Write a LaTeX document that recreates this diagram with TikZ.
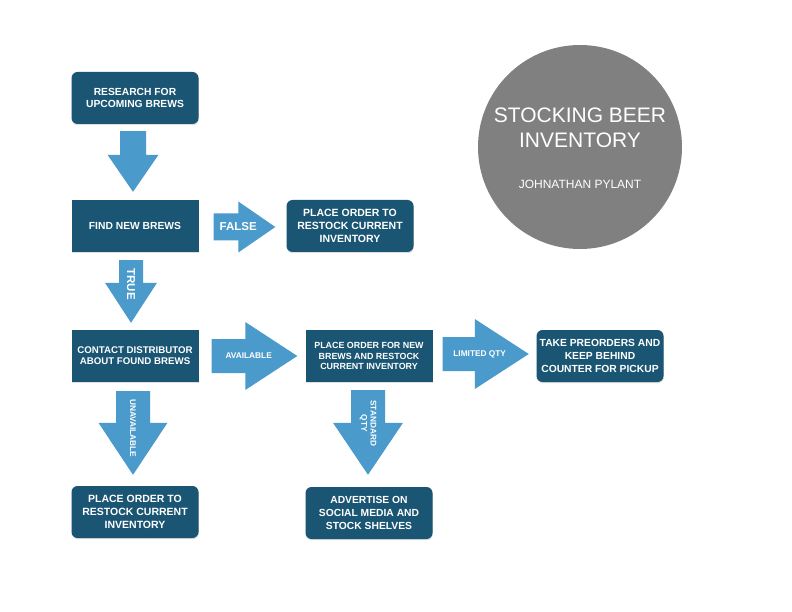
\documentclass[tikz,border=0pt]{standalone}
\usepackage{fontspec}
\setmainfont{Liberation Sans}
\usetikzlibrary{calc,shadows}

\definecolor{boxblue}{RGB}{26,85,115}
\definecolor{arrowblue}{RGB}{74,154,204}
\definecolor{titlegray}{RGB}{128,128,128}

\tikzset{
  stepbox/.style={fill=boxblue,text=white,align=center,inner sep=2pt,
    minimum width=127pt,minimum height=52pt,
    font=\bfseries\fontsize{10.3}{12.8}\selectfont,
    drop shadow={shadow xshift=0.3pt,shadow yshift=-1.2pt,opacity=0.25}},
  roundbox/.style={stepbox,rounded corners=6pt},
  arrowlabel/.style={text=white,align=center,inner sep=0pt,
    font=\bfseries\fontsize{8.3}{9.3}\selectfont},
  biglabel/.style={arrowlabel,font=\bfseries\fontsize{11.5}{12}\selectfont}
}

% block arrows: start (#1), tip (#2), half shaft #3, half head #4, head length #5
\newcommand{\blockdown}[5]{%
  \fill[arrowblue] ($(#1)+(-#3,0)$) -- ($(#2)+(-#3,-#5)$) -- ($(#2)+(-#4,-#5)$)
    -- (#2) -- ($(#2)+(#4,-#5)$) -- ($(#2)+(#3,-#5)$) -- ($(#1)+(#3,0)$) -- cycle;}
\newcommand{\blockright}[5]{%
  \fill[arrowblue] ($(#1)+(0,-#3)$) -- ($(#2)+(-#5,-#3)$) -- ($(#2)+(-#5,-#4)$)
    -- (#2) -- ($(#2)+(-#5,#4)$) -- ($(#2)+(-#5,#3)$) -- ($(#1)+(0,#3)$) -- cycle;}

\begin{document}
\begin{tikzpicture}[x=1pt,y=-1pt]
\fill[white] (0,0) rectangle (792,612);

% title
\node[circle,fill=titlegray,minimum size=204pt,inner sep=0pt] (title) at (580,147) {};
\node[text=white,align=center,font=\fontsize{21}{25}\selectfont] (titletext) at (580,128)
  {STOCKING BEER\\INVENTORY};
\node[text=white,font=\fontsize{12}{14}\selectfont] (author) at (580,184.5) {JOHNATHAN PYLANT};

% steps
\node[roundbox] (research) at (135,98) {RESEARCH FOR\\UPCOMING BREWS};
\node[stepbox] (find) at (135,226) {FIND NEW BREWS};
\node[roundbox,font=\bfseries\fontsize{10.5}{13.2}\selectfont] (restockA) at (350,226)
  {PLACE ORDER TO\\RESTOCK CURRENT\\INVENTORY};
\node[stepbox,font=\bfseries\fontsize{9.7}{11.3}\selectfont] (contact) at (135,356)
  {CONTACT DISTRIBUTOR\\ABOUT FOUND BREWS};
\node[roundbox,font=\bfseries\fontsize{10.5}{13.2}\selectfont] (restockB) at (135,512)
  {PLACE ORDER TO\\RESTOCK CURRENT\\INVENTORY};
\node[stepbox,font=\bfseries\fontsize{8.9}{10.5}\selectfont] (order) at (369,356)
  {PLACE ORDER FOR NEW\\BREWS AND RESTOCK\\CURRENT INVENTORY};
\node[roundbox] (preorder) at (600,356)
  {TAKE PREORDERS AND\\KEEP BEHIND\\COUNTER FOR PICKUP};
\node[roundbox] (advertise) at (369,513)
  {ADVERTISE ON\\SOCIAL MEDIA AND\\STOCK SHELVES};

% arrows
\coordinate (t1) at ($(research.south)+(-2,7)$);
\coordinate (h1) at ($(find.north)+(-2,-8)$);
\blockdown{t1}{h1}{13}{25.5}{37}

\coordinate (t2) at ($(find.east)+(15,1)$);
\coordinate (h2) at ($(restockA.west)+(-11,1)$);
\blockright{t2}{h2}{13.5}{25.5}{37}
\node[biglabel] (falselbl) at ($(t2)+(24.5,0)$) {FALSE};

\coordinate (t3) at ($(find.south)+(-4,8)$);
\coordinate (h3) at ($(contact.north)+(-4,-7)$);
\blockdown{t3}{h3}{12}{26}{40}
\node[biglabel,rotate=-90] (truelbl) at ($(t3)+(0,24)$) {TRUE};

\coordinate (t4) at ($(contact.east)+(13,0)$);
\coordinate (h4) at ($(order.west)+(-8,0)$);
\blockright{t4}{h4}{17}{34}{52}
\node[arrowlabel] (availlbl) at ($(t4)+(37,0)$) {AVAILABLE};

\coordinate (t5) at ($(contact.south)+(-2,9)$);
\coordinate (h5) at ($(restockB.north)+(-2,-11)$);
\blockdown{t5}{h5}{17}{34.5}{52}
\node[arrowlabel,rotate=-90] (unavaillbl) at ($(t5)+(0,37)$) {UNAVAILABLE};

\coordinate (t6) at ($(order.east)+(10,-2)$);
\coordinate (h6) at ($(preorder.west)+(-7.5,-2)$);
\blockright{t6}{h6}{17}{35}{54}
\node[arrowlabel] (limitedlbl) at ($(t6)+(37,0)$) {LIMITED QTY};

\coordinate (t7) at ($(order.south)+(-1,8)$);
\coordinate (h7) at ($(advertise.north)+(-1,-12)$);
\blockdown{t7}{h7}{17}{35}{52}
\node[arrowlabel,rotate=-90] (standardlbl) at ($(t7)+(0,33)$) {STANDARD\\QTY};
\end{tikzpicture}
\end{document}
